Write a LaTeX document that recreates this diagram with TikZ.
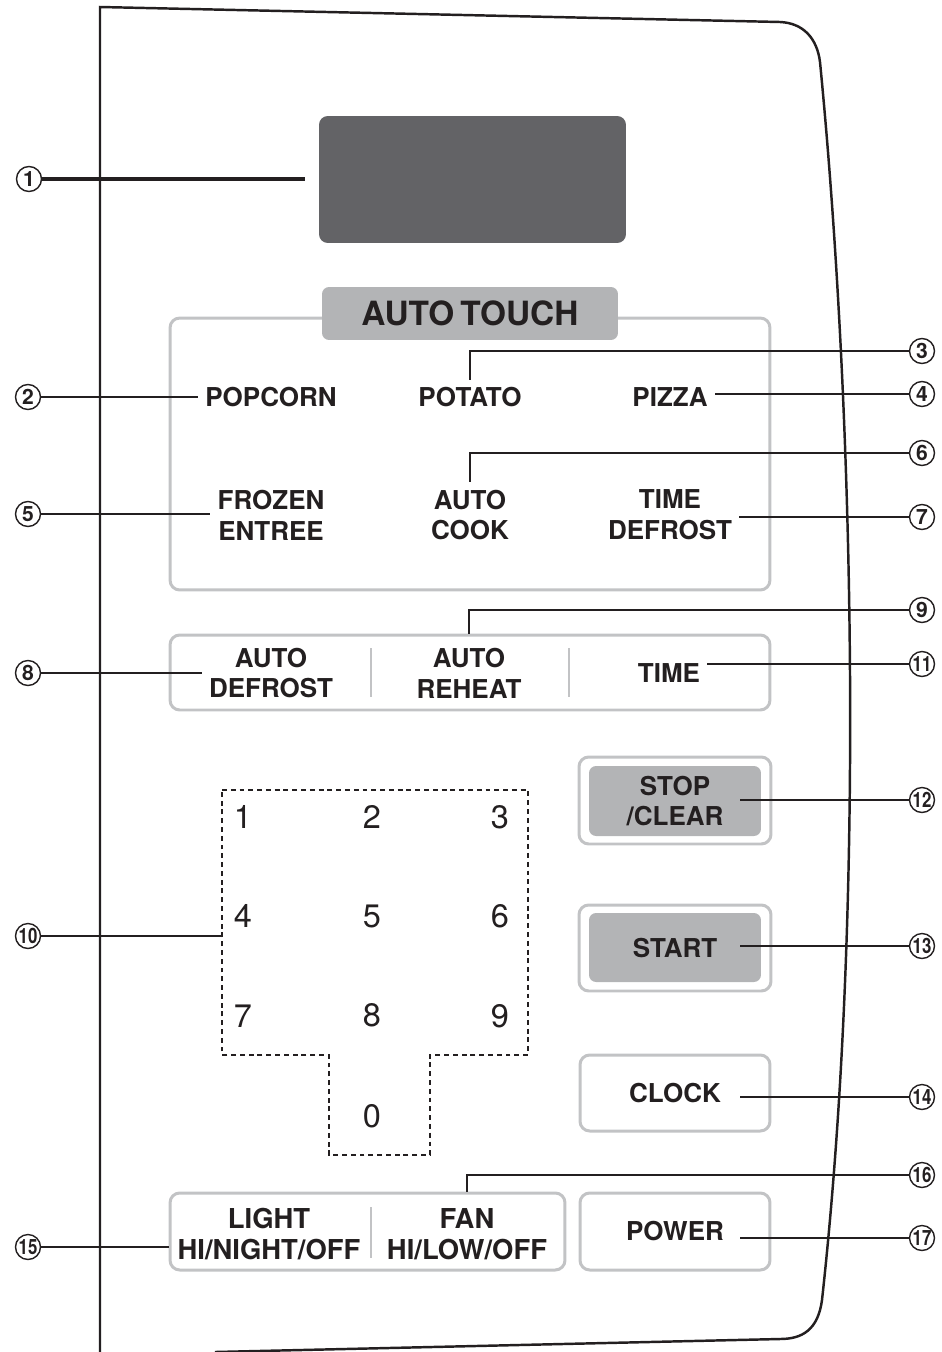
\documentclass[tikz,border=0pt]{standalone}
\usepackage{fontspec}
\setmainfont{TeX Gyre Heros}
\usetikzlibrary{positioning}

\definecolor{ink}{HTML}{231F20}
\definecolor{rimgray}{HTML}{C2C3C5}
\definecolor{keygray}{HTML}{B3B4B6}
\definecolor{lcdgray}{HTML}{636366}

\tikzset{
    callout/.style={circle, draw=ink, line width=0.8pt, minimum size=0.5cm, inner sep=0pt,
        text=ink, font=\fontsize{12}{12}\selectfont\bfseries},
    lead/.style={draw=ink, line width=1.1pt},
    label/.style={align=center, text=ink, inner sep=4pt,
        font=\fontsize{14.8}{17.6}\selectfont\bfseries},
    btntext/.style={label, minimum width=2.6cm},
    rim/.style={draw=rimgray, line width=1.7pt, rounded corners=5.5pt},
    keyfill/.style={fill=keygray, rounded corners=4pt},
    divider/.style={draw=rimgray, line width=1.3pt},
    keypad/.style={draw=ink, line width=0.6pt, dash pattern=on 2.8pt off 2.2pt},
    digit/.style={text=ink, font=\fontsize{18.5}{18.5}\selectfont},
}

\begin{document}
\begin{tikzpicture}[x=0.02cm, y=-0.02cm]
    \useasboundingbox (0,0) rectangle (942,1352);

    % panel outline
    \draw[ink, line width=1.4pt] (100,1352) -- (100,7) -- (780,22)
        .. controls (803,23) and (817,38) .. (820,62)
        .. controls (853,400) and (866,900) .. (822,1300)
        .. controls (818,1330) and (802,1339) .. (780,1339) -- (215,1352);

    % display
    \node[fill=lcdgray, rounded corners=5pt, minimum width=6.14cm, minimum height=2.54cm] (lcd) at (472.5,179.5) {};
    \coordinate (lcdtip) at (305,179);

    % auto touch group
    \node[rim, minimum width=12cm, minimum height=5.44cm] (autobox) at (470,454) {};
    \node[keyfill, minimum width=5.92cm, minimum height=1.06cm, text=ink,
          font=\fontsize{19}{19}\selectfont\bfseries] (tag) at (470,313.5) {AUTO\hspace{0.18em}TOUCH};

    \node[label] (popcorn) at (271,397) {POPCORN};
    \node[label] (potato) at (470,397) {POTATO};
    \node[label] (pizza) at (670,397) {PIZZA};
    \node[label] (frozen) at (271,515) {FROZEN\\ENTREE};
    \node[label] (autocook) at (470,515) {AUTO\\COOK};
    \node[label] (tdefrost) at (670,515) {TIME\\DEFROST};

    % defrost / reheat / time row
    \node[rim, minimum width=12cm, minimum height=1.5cm] (row) at (470,672.5) {};
    \draw[divider] (371,648) -- (371,697);
    \draw[divider] (569,648) -- (569,697);
    \node[label] (adefrost) at (271,673) {AUTO\\DEFROST};
    \node[label] (reheat) at (469,673) {AUTO\\REHEAT};
    \node[label] (time) at (669,673) {TIME};

    % number pad
    \draw[keypad] (222,790) -- (528,790) -- (528,1055) -- (430,1055) -- (430,1155)
        -- (329,1155) -- (329,1055) -- (222,1055) -- cycle;
    \coordinate (kpW) at (222,936);
    \foreach \d/\x/\y in {1/243/817, 2/372/817, 3/500/817,
                          4/243/916, 5/372/916, 6/500/916,
                          7/243/1016, 8/372/1015, 9/500/1016, 0/372/1116}
        \node[digit] (k\d) at (\x,\y) {\d};

    % buttons
    \node[rim, minimum width=3.84cm, minimum height=1.74cm] (stopbox) at (675,800.5) {};
    \node[keyfill, minimum width=3.44cm, minimum height=1.4cm] at (675,801) {};
    \node[btntext] (stop) at (675,801) {STOP\\/CLEAR};

    \node[rim, minimum width=3.84cm, minimum height=1.72cm] (startbox) at (675,948) {};
    \node[keyfill, minimum width=3.44cm, minimum height=1.38cm] at (675,947.5) {};
    \node[btntext] (start) at (675,948) {START};

    \node[rim, minimum width=3.8cm, minimum height=1.52cm] (clockbox) at (675,1093) {};
    \node[btntext] (clock) at (675,1093) {CLOCK};

    \node[rim, minimum width=7.9cm, minimum height=1.54cm] (lfbox) at (367.5,1231.5) {};
    \draw[divider] (371,1207) -- (371,1258);
    \node[label, font=\fontsize{15.6}{17.6}\selectfont\bfseries] (light) at (269,1234) {LIGHT\\HI/NIGHT/OFF};
    \node[label, font=\fontsize{15.6}{17.6}\selectfont\bfseries] (fan) at (467,1234) {FAN\\HI/LOW/OFF};

    \node[rim, minimum width=3.8cm, minimum height=1.54cm] (powerbox) at (675,1231.5) {};
    \node[btntext] (power) at (675,1231) {POWER};

    % callouts
    \foreach \n/\x/\y in {1/29/179, 2/28/397, 3/922/351, 4/922/394, 5/28/514,
                          6/922/453, 7/922/517, 8/28/673, 9/922/610}
        \node[callout] (c\n) at (\x,\y) {\n};
    \foreach \n/\x/\y in {10/28/936, 11/922/664, 12/922/800, 13/922/946, 14/922/1097,
                          15/28/1247, 16/922/1175, 17/922/1238}
        \node[callout] (c\n) at (\x,\y) {\scalebox{0.8}[1]{\n}};

    % leader lines
    \draw[lead, line width=1.9pt] (c1) -- (lcdtip);
    \draw[lead] (c2) -- (c2 -| popcorn.west);
    \draw[lead] (c3) -- (c3 -| potato) -- (potato.north);
    \draw[lead] (c4) -- (c4 -| pizza.east);
    \draw[lead] (c5) -- (c5 -| frozen.west);
    \draw[lead] (c6) -- (c6 -| autocook) -- (autocook.north);
    \draw[lead] (c7) -- (c7 -| tdefrost.east);
    \draw[lead] (c8) -- (c8 -| adefrost.west);
    \draw[lead] (c9) -- (c9 -| reheat) -- (reheat |- row.north);
    \draw[lead] (c11) -- (c11 -| time.east);
    \draw[lead] (c10) -- (kpW);
    \draw[lead] (c12) -- (c12 -| stop.east);
    \draw[lead] (c13) -- (c13 -| start.east);
    \draw[lead] (c14) -- (c14 -| clock.east);
    \draw[lead] (c15) -- (c15 -| lfbox.west);
    \draw[lead] (c16) -- (c16 -| fan) -- (fan |- lfbox.north);
    \draw[lead] (c17) -- (c17 -| power.east);
\end{tikzpicture}
\end{document}
